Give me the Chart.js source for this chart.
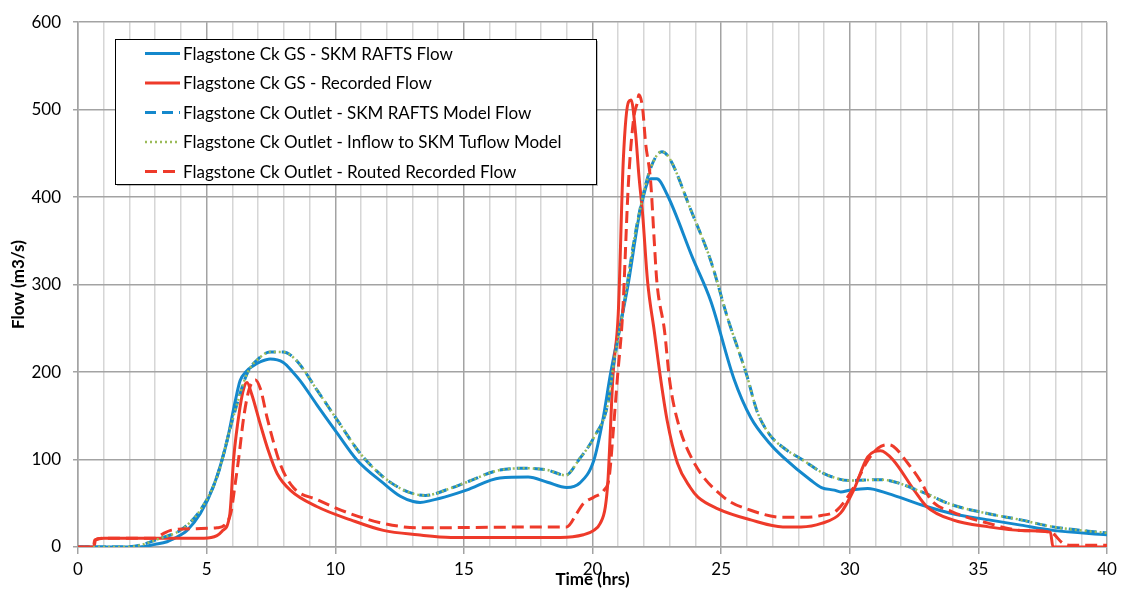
<!DOCTYPE html>
<html><head><meta charset="utf-8">
<script src="https://cdn.jsdelivr.net/npm/chart.js@4.4.1/dist/chart.umd.min.js"></script>
<style>html,body{margin:0;padding:0;background:#fff;}#wrap{width:1129px;height:590px;}</style>
</head><body><div id="wrap"><canvas id="c" width="1129" height="590"></canvas></div>
<script>
const seriesLabels = [
  'Flagstone Ck GS - SKM RAFTS Flow',
  'Flagstone Ck GS - Recorded Flow',
  'Flagstone Ck Outlet - SKM RAFTS Model Flow',
  'Flagstone Ck Outlet - Inflow to SKM Tuflow Model',
  'Flagstone Ck Outlet - Routed Recorded Flow'
];
const xAxisTitle = 'Time (hrs)';
const yAxisTitle = 'Flow (m3/s)';

// Flagstone Ck GS - SKM RAFTS Flow
const gsSkmTime = [0,2.4,3.0,3.46,4.0,4.24,4.75,5.25,5.8,6.1,6.3,6.55,6.8,7.1,7.47,7.98,8.38,8.64,9.3,10.08,10.86,11.87,12.53,13.03,13.3,13.7,14.47,15.1,16.4,17.5,18.25,19.0,19.5,20.05,20.4,20.7,21.36,21.87,22.26,22.5,22.9,23.9,24.6,25.5,26.15,26.9,27.4,28.5,28.9,29.4,29.65,30.0,30.7,31.5,32.8,34.0,35.4,36.65,37.9,40];
const gsSkmFlow = [0,0,3,6,14,19,38,68,122,165,190,201,207,212,215,211,199,190,162,130,99,73,58,52,51,53,59,65,79,80,74,68,73,99,145,198,296,387,421,421,403,330,281,192,148,118,103,76,68,65,63,65,67,61,48,38,31,25,19,14];

// Flagstone Ck GS - Recorded Flow
const gsRecTime = [0,0.62,0.68,1.0,4.9,5.4,5.6,5.9,6.05,6.3,6.45,6.57,6.75,7.08,7.4,7.74,8.25,9.3,10.6,11.87,13.2,14.5,18.75,19.65,20.05,20.3,20.5,20.6,20.8,21.0,21.2,21.4,21.5,21.67,21.8,21.95,22.14,22.4,22.65,22.9,23.3,23.8,24.1,24.85,26.15,27.4,28.1,28.9,29.65,30.15,30.7,31.2,31.7,32.5,33.0,34.0,35.4,36.65,37.8,37.9,40];
const gsRecFlow = [0,0,8,10,10,13,18,37,101,160,182,188,175,141,110,84,65,46,31,19,14,11,11,14,19,27,46,76,198,266,444,509,511,475,426,380,304,247,192,145,96,68,57,44,31,23,23,27,39,65,103,110,99,65,46,31,23,19,17,0,0];

// Flagstone Ck Outlet - SKM RAFTS Model Flow
const outSkmTime = [0,1.8,2.4,3.2,3.97,4.75,5.4,6.03,6.57,7.08,7.47,7.98,8.5,9.3,10.08,10.97,11.87,12.53,13.03,13.5,14.47,15.1,16.4,17.45,18.25,18.95,19.5,20.05,20.6,20.8,21.2,21.75,22.26,22.7,23.0,23.8,24.6,25.25,26.0,26.4,26.9,27.4,28.2,29.0,30.0,31.2,32.8,34.0,35.4,36.65,37.9,40];
const outSkmFlow = [0,0,2,10,19,42,80,148,198,217,223,223,213,179,145,107,80,67,61,59,67,74,88,90,88,82,101,125,164,205,273,372,433,452,444,387,327,262,196,155,128,114,99,84,76,77,63,48,38,31,23,16];

// Flagstone Ck Outlet - Inflow to SKM Tuflow Model
const outInflowTime = [0,1.8,2.4,3.2,3.97,4.75,5.4,6.03,6.57,7.08,7.47,7.98,8.5,9.3,10.08,10.97,11.87,12.53,13.03,13.5,14.47,15.1,16.4,17.45,18.25,18.95,19.5,20.05,20.6,20.8,21.2,21.75,22.26,22.7,23.0,23.8,24.6,25.25,26.0,26.4,26.9,27.4,28.2,29.0,30.0,31.2,32.8,34.0,35.4,36.65,37.9,40];
const outInflowFlow = [0,0,2,10,19,42,80,148,198,217,223,223,213,179,145,107,80,67,61,59,67,74,88,90,88,82,101,125,164,205,273,372,433,452,444,387,327,262,196,155,128,114,99,84,76,77,63,48,38,31,23,16];

// Flagstone Ck Outlet - Routed Recorded Flow
const routedTime = [0,0.6,0.65,1.0,3.0,3.3,3.6,4.6,5.4,5.7,5.95,6.1,6.24,6.45,6.65,6.9,7.1,7.35,7.86,8.37,9.3,10.6,11.87,13.2,18.75,19.0,19.4,19.65,20.05,20.45,20.65,20.8,20.97,21.17,21.4,21.6,21.75,21.8,21.95,22.06,22.26,22.4,22.5,22.8,23.0,23.3,23.9,25.1,26.15,27.4,28.2,28.9,29.5,30.15,30.7,31.1,31.45,31.7,32.25,32.8,33.15,34.0,35.4,36.65,37.8,38.3,38.6,40];
const routedFlow = [0,0,8,10,10,15,19,21,22,25,40,70,100,150,180,191,180,148,95,68,54,38,27,22,23,23,39,50,57,65,80,130,194,266,418,490,509,517,501,463,418,350,304,247,190,145,99,57,42,34,34,36,42,68,99,113,117,115,96,73,54,40,27,19,17,4,2,2];

const xMin = 0, xMax = 40, xStep = 1, xLabelEvery = 5;
const yMin = 0, yMax = 600, yStep = 100;

const BLUE = '#1488cc', RED = '#ee3a2a', GREEN = '#9bbb59';
const styles = [
  {color: BLUE, width: 3, dash: []},
  {color: RED, width: 3, dash: []},
  {color: BLUE, width: 3, dash: [11, 6]},
  {color: GREEN, width: 2.5, dash: [2, 3]},
  {color: RED, width: 3, dash: [12, 6]}
];
const seriesData = [
  [gsSkmTime, gsSkmFlow],
  [gsRecTime, gsRecFlow],
  [outSkmTime, outSkmFlow],
  [outInflowTime, outInflowFlow],
  [routedTime, routedFlow]
];
const pts = (t, q) => t.map((x, i) => ({x: x, y: q[i]}));

const datasets = seriesData.map((s, i) => ({
  label: seriesLabels[i],
  data: pts(s[0], s[1]),
  borderColor: styles[i].color,
  backgroundColor: styles[i].color,
  borderWidth: styles[i].width,
  borderDash: styles[i].dash,
  pointRadius: 0,
  pointHoverRadius: 0,
  fill: false,
  cubicInterpolationMode: 'monotone',
  order: seriesData.length - i
}));

const FONT = 'Lato, "Open Sans", sans-serif';
const MAJOR = '#a3a3a3', MINOR = '#d6d6d6';

const legendPlugin = {
  id: 'boxLegend',
  afterDraw(chart) {
    const ctx = chart.ctx;
    const bx = 115, by = 39, bw = 481, bh = 145;
    ctx.save();
    ctx.fillStyle = 'rgba(0,0,0,0.25)';
    ctx.fillRect(bx + 2, by + 2, bw, bh);
    ctx.fillStyle = '#fff';
    ctx.fillRect(bx, by, bw, bh);
    ctx.strokeStyle = '#000';
    ctx.lineWidth = 1;
    ctx.strokeRect(bx + 0.5, by + 0.5, bw, bh);
    const rowY = [53.5, 83, 112.5, 142, 171.5];
    ctx.font = '17px ' + FONT;
    ctx.textBaseline = 'middle';
    ctx.textAlign = 'left';
    seriesLabels.forEach((lab, i) => {
      const st = styles[i];
      ctx.beginPath();
      ctx.setLineDash(st.dash);
      ctx.strokeStyle = st.color;
      ctx.lineWidth = st.width;
      ctx.moveTo(145, rowY[i]);
      ctx.lineTo(180, rowY[i]);
      ctx.stroke();
      ctx.setLineDash([]);
      ctx.fillStyle = '#000';
      ctx.fillText(lab, 183, rowY[i] + 1);
    });
    ctx.restore();
  }
};

new Chart(document.getElementById('c'), {
  type: 'line',
  data: {datasets: datasets},
  options: {
    responsive: false,
    animation: false,
    devicePixelRatio: 1,
    layout: {padding: {left: 0, right: 22, top: 20, bottom: 0}},
    plugins: {legend: {display: false}, tooltip: {enabled: false}},
    scales: {
      x: {
        type: 'linear', min: xMin, max: xMax,
        afterFit(s) { s.height = 43; },
        ticks: {
          stepSize: xStep, autoSkip: false, maxRotation: 0, padding: 5,
          color: '#000', font: {family: FONT, size: 17},
          callback: v => (v % xLabelEvery === 0 ? String(v) : '')
        },
        grid: {
          color: c => (c.tick && c.tick.value % xLabelEvery === 0 ? MAJOR : MINOR),
          tickColor: c => (c.tick && c.tick.value % xLabelEvery === 0 ? MAJOR : 'rgba(0,0,0,0)'),
          lineWidth: 1.5, tickLength: 7
        },
        border: {display: true, color: MAJOR, width: 1.5},
        title: {display: true, text: xAxisTitle, color: '#000',
          font: {family: FONT, size: 17, weight: 'bold'}, padding: {top: 0, bottom: 0}}
      },
      y: {
        type: 'linear', min: yMin, max: yMax,
        afterFit(s) { s.width = 78; },
        ticks: {stepSize: yStep, padding: 12, color: '#000', font: {family: FONT, size: 17}},
        grid: {color: MAJOR, tickColor: MAJOR, lineWidth: 1.5, tickLength: 5},
        border: {display: true, color: MAJOR, width: 1.5},
        title: {display: true, text: yAxisTitle, color: '#000',
          font: {family: FONT, size: 17, weight: 'bold'}, padding: {top: 8, bottom: 0}}
      }
    }
  },
  plugins: [legendPlugin]
});
</script>
</body></html>
